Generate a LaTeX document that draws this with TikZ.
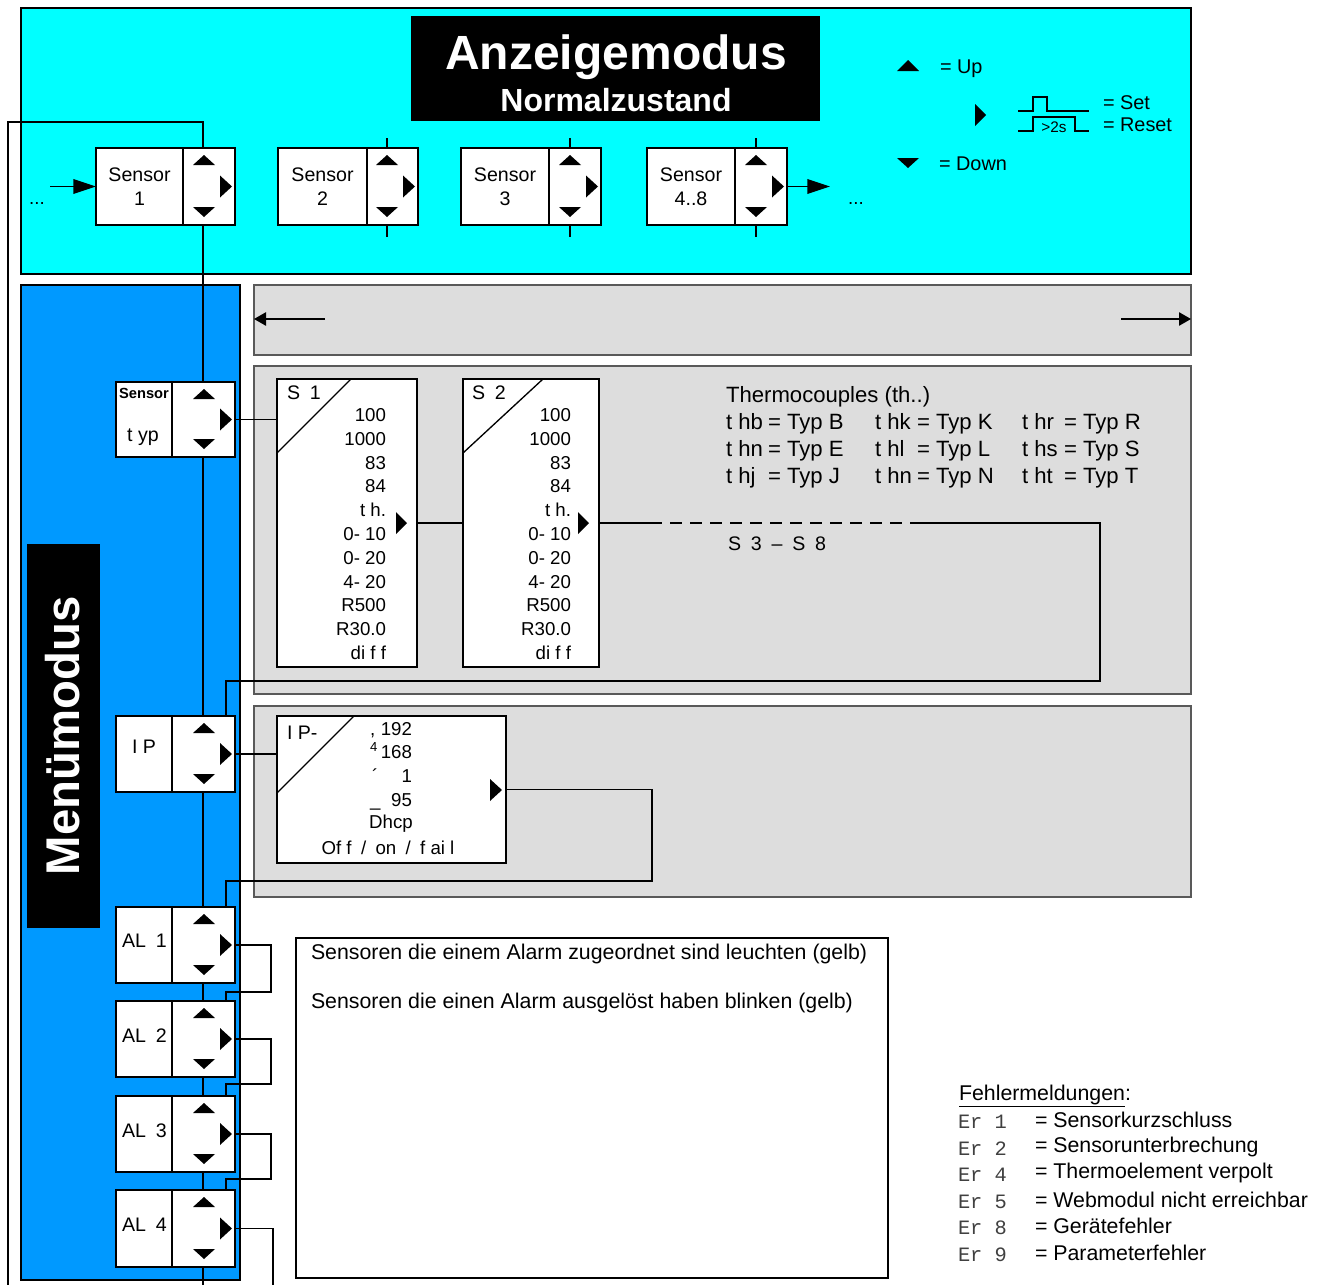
\documentclass[tikz,border=0pt]{standalone}
\usepackage{fontspec}
\setmainfont{Liberation Sans}
\newfontfamily\monofam{Liberation Mono}
\usetikzlibrary{fit,calc,arrows.meta}
\definecolor{cyanbg}{RGB}{0,255,255}
\definecolor{bluebg}{RGB}{0,153,255}
\definecolor{graybg}{RGB}{221,221,221}
% name, xLeft, yTop, xDivider, xRight, yBottom
\newcommand\mbtn[6]{%
  \node[box,fit={(#2,#3)(#4,#6)}] (#1l) {};
  \node[box,fit={(#4,#3)(#5,#6)}] (#1r) {};
  \fill ($(#1r.north east)+(-31,7)$) -- ++(11,10) -- ++(-22,0) -- cycle;
  \fill ($(#1r.south east)+(-31,-8)$) -- ++(11,-10) -- ++(-22,0) -- cycle;
  \fill ($(#1r.east)+(-3,0)$) -- ++(-12,-11) -- ++(0,22) -- cycle;
}
\begin{document}
\begin{tikzpicture}[x=0.75pt,y=-0.75pt,inner sep=0pt,outer sep=0pt,line width=1pt,
  box/.style={draw=black,fill=white,line width=1pt},
  grayblk/.style={draw=black!65,fill=graybg,line width=1pt},
  lbl/.style={font=\fontsize{14.7}{18}\selectfont,align=center},
  val/.style={font=\fontsize{14}{17}\selectfont,anchor=east},
  leg/.style={font=\fontsize{14.9}{18}\selectfont,anchor=west},
  big/.style={font=\fontsize{16}{19}\selectfont,anchor=west},
  thc/.style={font=\fontsize{16.6}{19}\selectfont,anchor=base west},
  mono/.style={font=\fontsize{15.3}{18}\monofam\selectfont,anchor=west,text=black!75},
  conn/.style={draw=black,line width=1.1pt},
  bigarrow/.style={-{Triangle[length=17pt,width=11pt]}},
  smallarrow/.style={-{Triangle[length=9pt,width=10pt]}}]
\useasboundingbox (0,0) rectangle (1325,1285);

% ---------- Anzeigemodus ----------
\node[draw=black,line width=1.5pt,fill=cyanbg,fit={(21,8)(1191,274)}] (anz) {};
\node[fill=black,fit={(411,16)(820,121)}] (titlebox) {};
\node[text=white,font=\fontsize{36}{38}\bfseries\selectfont] (title1) at (616,57) {Anzeigemodus};
\node[text=white,font=\fontsize{24}{26}\bfseries\selectfont] (title2) at (616,100) {Normalzustand};

% legend
\fill (908,60) -- (919,71) -- (897,71) -- cycle;
\node[leg] (lup) at (940,69) {= Up};
\fill (986,115) -- (975,104) -- (975,126) -- cycle;
\draw (1018,111) -- (1033,111) -- (1033,97) -- (1047,97) -- (1047,111) -- (1089,111);
\draw (1018,131) -- (1033,131) -- (1033,117) -- (1075,117) -- (1075,131) -- (1089,131);
\node[font=\fontsize{11.5}{13}\selectfont] (l2s) at (1054,127) {>2s};
\node[leg] (lset) at (1103,103) {= Set};
\node[leg] (lreset) at (1103,125) {= Reset};
\fill (908,168) -- (919,158) -- (897,158) -- cycle;
\node[leg] (ldown) at (939,164) {= Down};

% ---------- Menuemodus background ----------
\node[draw=black,fill=bluebg,fit={(21,285)(240,1280)}] (menu) {};
\node[fill=black,fit={(27,544)(100,928)}] (mbox) {};
\node[rotate=90,text=white,font=\fontsize{35.5}{38}\bfseries\selectfont] (mtext) at (63,736) {Menümodus};

\node[grayblk,fit={(254,285)(1191,355)}] (g1) {};
\node[grayblk,fit={(254,366)(1191,694)}] (g2) {};
\node[grayblk,fit={(254,706)(1191,897)}] (g3) {};
\coordinate (g1l) at (325,319);
\coordinate (g1r) at (1121,319);
\draw[conn,smallarrow] (g1l) -- (g1.west |- g1l);
\draw[conn,smallarrow] (g1r) -- (g1.east |- g1r);

% trunk lines
\coordinate (trunk) at (203,0);
\coordinate (loopL) at (8,122);
\coordinate (bottomL) at (8,1285);
\draw[conn] (trunk |- 0,148) -- (trunk |- loopL) -- (loopL) -- (bottomL);
\draw[conn] (trunk |- 0,225) -- (trunk |- bottomL);

% ---------- Sensor buttons ----------
\mbtn{sa}{96}{148}{183}{235}{225}
\node[lbl] (sat) at (sal) {Sensor\\1};
\mbtn{sb}{278}{148}{367}{418}{225}
\node[lbl] (sbt) at (sbl) {Sensor\\2};
\mbtn{sc}{461}{148}{549}{601}{225}
\node[lbl] (sct) at (scl) {Sensor\\3};
\mbtn{sd}{647}{148}{735}{787}{225}
\node[lbl] (sdt) at (sdl) {Sensor\\4..8};
\foreach \n in {sb,sc,sd}{
  \draw[conn] ($(\n r.north east)+(-31,0)$) -- ++(0,-10);
  \draw[conn] ($(\n r.south east)+(-31,0)$) -- ++(0,12);
}
\coordinate (inL) at (50,186.5);
\draw[conn,bigarrow] (inL) -- (sal.west);
\node[font=\fontsize{14}{16}\selectfont] (dots1) at (37,203) {...};
\coordinate (outR) at (830,186.5);
\draw[conn,bigarrow] (sdr.east) -- (outR);
\node[font=\fontsize{14}{16}\selectfont] (dots2) at (856,203) {...};

% ---------- Menu buttons ----------
\mbtn{ty}{116}{382}{172}{235}{457}
\node[font=\fontsize{11}{13}\bfseries\selectfont] (tys) at (144,393) {Sensor};
\node[lbl] (tyt) at (143,437) {t yp};
\mbtn{ip}{116}{716}{172}{235}{792}
\node[lbl] (ipt) at (144,747) {I P};
\mbtn{ala}{116}{907}{172}{235}{983}
\node[lbl,anchor=west] (alat) at (122,941) {AL\enspace 1};
\mbtn{alb}{116}{1001}{172}{235}{1077}
\node[lbl,anchor=west] (albt) at (122,1036) {AL\enspace 2};
\mbtn{alc}{116}{1096}{172}{235}{1172}
\node[lbl,anchor=west] (alct) at (122,1131) {AL\enspace 3};
\mbtn{ald}{116}{1190}{172}{235}{1267}
\node[lbl,anchor=west] (aldt) at (122,1225) {AL\enspace 4};

% ---------- S1 / S2 ----------
\node[box,fit={(277,379)(417,667)}] (sx1) {};
\draw (277,453) -- (351,379);
\node[lbl,anchor=west] (sx1h) at (287,393) {S\enspace 1};
\foreach \t [count=\i] in {100,1000,83,84,t h.,0- 10,0- 20,4- 20,R500,R30.0,di f f}
  \node[val] (sxa\i) at (386,{415+23.8*(\i-1)}) {\t};
\fill (407,523) -- (396,512) -- (396,534) -- cycle;

\node[box,fit={(463,379)(599,667)}] (sx2) {};
\draw (463,453) -- (543,379);
\node[lbl,anchor=west] (sx2h) at (472,393) {S\enspace 2};
\foreach \t [count=\i] in {100,1000,83,84,t h.,0- 10,0- 20,4- 20,R500,R30.0,di f f}
  \node[val] (sxb\i) at (571,{415+23.8*(\i-1)}) {\t};
\fill (589,523) -- (578,512) -- (578,534) -- cycle;

\draw[conn] (tyr.east) -- (tyr.east -| sx1.west);
\draw[conn] (sx1.east) -- (sx2.west);
\coordinate (da) at (650,523);
\coordinate (db) at (910,523);
\coordinate (dc) at (1100,523);
\coordinate (dd) at (1100,681);
\coordinate (de) at (226,681);
\draw[conn] (sx2.east) -- (da);
\draw[conn,dash pattern=on 9pt off 6pt] (da) -- (db);
\draw[conn] (db) -- (dc) -- (dd) -- (de) -- (de |- ipr.north);
\node[lbl,anchor=west] (s38) at (728,544) {S\enspace3\enspace –\enspace S\enspace8};

% thermocouples
\node[thc] (thh) at (726,402) {Thermocouples (th..)};
\foreach \p/\e/\xp/\xe/\y [count=\i] in {
  t hb/B/726/768/429, t hn/E/726/768/456, t hj/J/726/768/483,
  t hk/K/875/917/429, t hl/L/875/917/456, t hn/N/875/917/483,
  t hr/R/1022/1064/429, t hs/S/1022/1064/456, t ht/T/1022/1064/483}{
  \node[thc] (thp\i) at (\xp,\y) {\p};
  \node[thc] (the\i) at (\xe,\y) {= Typ \e};
}

% ---------- IP ----------
\node[box,fit={(277,716)(506,863)}] (ipx) {};
\draw (277,793) -- (354,716);
\node[lbl,anchor=west] (ipxh) at (287,733) {I P-};
\node[val,anchor=base west] (ips1) at (370,735) {,};
\node[val,anchor=base east] (ipn1) at (412,735) {192};
\node[val,anchor=base west] (ips2) at (370,758) {\textsuperscript{4}};
\node[val,anchor=base east] (ipn2) at (412,758) {168};
\node[val,anchor=base west] (ips3) at (372,782) {´};
\node[val,anchor=base east] (ipn3) at (412,782) {1};
\node[val,anchor=base west] (ips4) at (370,806) {\_};
\node[val,anchor=base east] (ipn4) at (412,806) {95};
\node[val,anchor=center] (ipd) at (391,824) {Dhcp};
\node[val,anchor=center] (ipo) at (388,848) {Of f\enspace/\enspace on\enspace/\enspace f ai l};
\fill (502,790) -- (490,779) -- (490,801) -- cycle;
\draw[conn] (ipr.east) -- (ipr.east -| ipx.west);
\coordinate (ia) at (652,789.5);
\coordinate (ib) at (652,881);
\coordinate (ic) at (226,881);
\draw[conn] (ipx.east) -- (ia) -- (ib) -- (ic) -- (ic |- alar.north);

% ---------- AL chain ----------
\draw[conn] (alar.east) -- ++(36,0) |- (226,992) -- (226,1001);
\draw[conn] (albr.east) -- ++(36,0) |- (226,1084) -- (226,1096);
\draw[conn] (alcr.east) -- ++(36,0) |- (226,1179) -- (226,1190);
\coordinate (alend) at (273,1285);
\draw[conn] (aldr.east) -- (aldr.east -| alend) -- (alend);

\node[box,line width=1.2pt,fit={(296,938)(888,1278)}] (albox) {};
\node[big] (alt1) at (311,954) {Sensoren die einem Alarm zugeordnet sind leuchten (gelb)};
\node[big] (alt2) at (311,1003) {Sensoren die einen Alarm ausgelöst haben blinken (gelb)};

% ---------- Fehlermeldungen ----------
\node[big] (fm) at (959,1096) {\underline{Fehlermeldungen}:};
\foreach \c/\t [count=\i] in {1/Sensorkurzschluss,2/Sensorunterbrechung,4/Thermoelement verpolt,5/Webmodul nicht erreichbar,8/Gerätefehler,9/Parameterfehler}{
  \node[mono] (er\i) at (958,{1122+26.5*(\i-1)}) {Er \c};
  \node[big] (ert\i) at (1035,{1120+26.5*(\i-1)}) {= \t};
}
\end{tikzpicture}
\end{document}
